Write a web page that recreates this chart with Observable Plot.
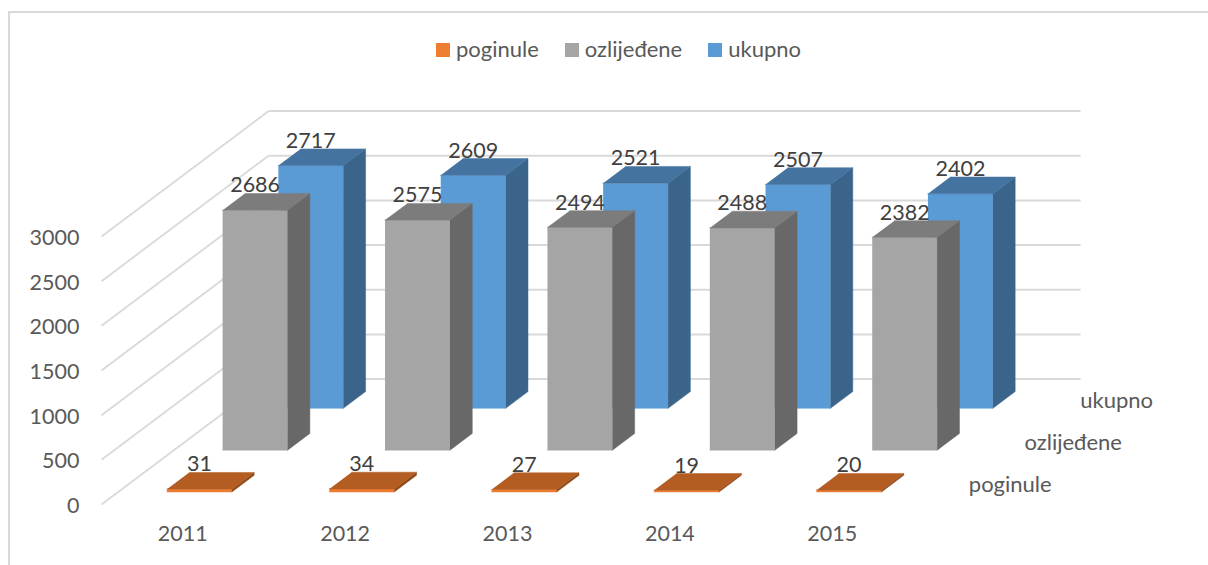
<!DOCTYPE html>
<html>
<head>
<meta charset="utf-8">
<style>
  html, body { margin: 0; padding: 0; background: #fff; overflow: hidden; width: 1208px; height: 565px; }
  #frame { position: absolute; left: 8px; top: 11px; right: 0; bottom: 0; border-left: 2px solid #d9d9d9; border-top: 2px solid #d9d9d9; }
  #legend { position: absolute; left: 0; top: 0; width: 1208px; height: 70px; box-sizing: border-box; padding: 33px 0 0 436px; }
  #legend > div { margin: 0 !important; min-height: 0 !important; height: 34px; display: flex; align-items: center; }
  #legend span { margin-right: 26px !important; color: #595959; font: 22px/30px Lato, sans-serif; position: relative; }
  #legend span svg { margin-right: 6px !important; position: relative; top: 1px; }
  #legend span { top: -1px; }
  #chart { position: absolute; left: 0; top: 70px; }
  #chart svg { background: transparent; }
</style>
<script src="https://cdn.jsdelivr.net/npm/d3@7"></script>
<script src="https://cdn.jsdelivr.net/npm/@observablehq/plot@0.6"></script>
</head>
<body>
<div id="frame"></div>
<div id="legend"></div>
<div id="chart"></div>
<script>
const years = ["2011", "2012", "2013", "2014", "2015"];
const seriesNames = ["poginule", "ozlijeđene", "ukupno"];
const poginule = [31, 34, 27, 19, 20];
const ozlijedene = [2686, 2575, 2494, 2488, 2382];
const ukupno = [2717, 2609, 2521, 2507, 2402];
const yTicks = [0, 500, 1000, 1500, 2000, 2500, 3000];

const frontColors = ["#ED7D31", "#A5A5A5", "#5B9BD5"];
const topColors = ["#B45D23", "#7C7C7C", "#4473A0"];
const sideColors = ["#8E4A1C", "#686868", "#3A6489"];

// oblique projection: depth slot -> shift along the category and value axes
const kx = 55.7 / 162.4;
const ky = 468;
const px = (c, d) => c + d * kx;
const py = (v, d) => v + d * ky;

const values = [poginule, ozlijedene, ukupno];
const faces = [];
const labels = [];
for (let s = 2; s >= 0; --s) {
  values[s].forEach((v, c) => {
    const x0 = c + 0.3, x1 = c + 0.7, d0 = s + 0.3, d1 = s + 0.7;
    const add = (face, color, corners) => corners.forEach(([x, d, val]) =>
      faces.push({id: `${s}-${c}-${face}`, X: px(x, d), Y: py(val, d), color}));
    add("front", frontColors[s], [[x0, d0, 0], [x1, d0, 0], [x1, d0, v], [x0, d0, v]]);
    add("side", sideColors[s], [[x1, d0, 0], [x1, d1, 0], [x1, d1, v], [x1, d0, v]]);
    add("top", topColors[s], [[x0, d0, v], [x1, d0, v], [x1, d1, v], [x0, d1, v]]);
    labels.push({X: px(c + 0.5, d0), Y: py(v, d1), text: String(v)});
  });
}

const depthLabels = seriesNames.map((name, s) => ({name, X: px(5, s + 0.5), Y: py(0, s + 0.5)}));

const gridColor = "#d9d9d9";
const font = "Lato, sans-serif";

const plot = Plot.plot({
  width: 1208,
  height: 495,
  marginLeft: 101,
  marginRight: 295,
  marginTop: 166,
  marginBottom: 61,
  style: {fontFamily: font, background: "transparent"},
  x: {type: "linear", domain: [0, 5]},
  y: {type: "linear", domain: [0, 3000]},
  marks: [
    Plot.link(yTicks, {x1: 0, y1: d => d, x2: px(0, 3), y2: d => py(d, 3), stroke: gridColor, strokeWidth: 1.8}),
    Plot.link(yTicks, {x1: px(0, 3), y1: d => py(d, 3), x2: px(5, 3), y2: d => py(d, 3), stroke: gridColor, strokeWidth: 2}),
    Plot.axisY({ticks: yTicks, tickSize: 0, tickPadding: 22, label: null, fontSize: 21.5, fill: "#595959", dy: 1.5, tickFormat: d => String(d)}),
    Plot.axisX({ticks: years.map((_, i) => i + 0.5), tickSize: 0, tickPadding: 21.5, label: null, fontSize: 21.5, fill: "#595959", tickFormat: d => years[Math.floor(d)]}),
    Plot.line(faces, {x: "X", y: "Y", z: "id", fill: "color", stroke: "color", strokeWidth: 0.5}),
    Plot.text(labels, {x: "X", y: "Y", text: "text", fontSize: 21.5, fill: "#404040", lineAnchor: "bottom", dy: -1}),
    Plot.text(depthLabels, {x: "X", y: "Y", text: "name", textAnchor: "start", dx: 27.5, dy: 1, fontSize: 22, fill: "#595959"})
  ]
});
document.getElementById("chart").append(plot);

const legend = Plot.legend({
  color: {type: "ordinal", domain: seriesNames, range: frontColors},
  swatchSize: 14,
  label: null
});
document.getElementById("legend").append(legend);
</script>
</body>
</html>
